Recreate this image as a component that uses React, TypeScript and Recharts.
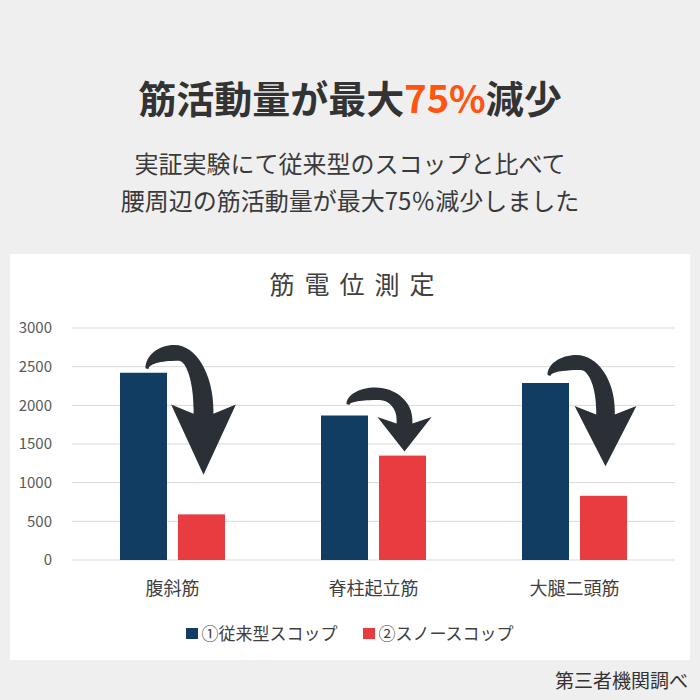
import React from "react";
import { BarChart, Bar, XAxis, YAxis, CartesianGrid } from "recharts";

const categories = ["腹斜筋", "脊柱起立筋", "大腿二頭筋"];
const conventional = [2420, 1870, 2290];
const snowScoop = [590, 1350, 830];
const yTicks = [0, 500, 1000, 1500, 2000, 2500, 3000];
const seriesNames = ["①従来型スコップ", "②スノースコップ"];

const NAVY = "#123d63";
const RED = "#e83c41";
const ARROW = "#2b3036";
const BAR_SIZE = 47;
const BAR_GAP = 11;
const FONT = '"Noto Sans CJK JP", "Noto Sans", sans-serif';

const data = categories.map((name, i) => ({
  name,
  conv: conventional[i],
  snow: snowScoop[i],
}));

// curved arrow from the conventional bar down onto the snow-scoop bar
function arrowPath(tx: number, cx: number, top: number, tip: number) {
  const H = tip - top;
  const w = 6 + 0.03 * H;
  const hw = 22 + 0.08 * H;
  const headH = 0.5 * H;
  const by = tip - headH;
  const ty = top + Math.max(0.18 * H, 1.6 * w + 4);
  const ax = tx + 0.5 * (cx - tx);
  const ay = top;
  const aix = ax + 4;
  const aiy = top + 1.6 * w;
  const k = 0.55;
  const r = (n: number) => n.toFixed(1);
  return [
    `M${r(tx)},${r(ty)}`,
    `C${r(tx)},${r(ty - k * (ty - ay))} ${r(ax - k * (ax - tx))},${r(ay)} ${r(ax)},${r(ay)}`,
    `C${r(ax + k * (cx + w - ax))},${r(ay)} ${r(cx + w)},${r(by - k * (by - ay))} ${r(cx + w)},${r(by)}`,
    `L${r(cx + w)},${r(by + 4)}`,
    `L${r(cx + hw)},${r(by - headH * 0.08)}`,
    `L${r(cx)},${r(tip)}`,
    `L${r(cx - hw)},${r(by - headH * 0.08)}`,
    `L${r(cx - w)},${r(by + 4)}`,
    `L${r(cx - w)},${r(by)}`,
    `C${r(cx - w)},${r(by - k * (by - aiy))} ${r(aix + k * (cx - w - aix))},${r(aiy)} ${r(aix)},${r(aiy)}`,
    `C${r(aix - k * (aix - tx))},${r(aiy)} ${r(tx + 3)},${r(ty - k * Math.max(ty - aiy, 0))} ${r(tx + 3)},${r(ty + 1)}`,
    "Z",
  ].join(" ");
}

function SnowBarShape(props: any) {
  const { x, y, width, height, payload } = props;
  const bottom = y + height;
  const ppu = height / payload.snow;
  const navyTop = bottom - payload.conv * ppu;
  const navyCenter = x - BAR_GAP - width / 2;
  const redCenter = x + width / 2;
  const top = navyTop - 28;
  const drop = y - navyTop;
  const tip = navyTop + 0.65 * drop + 10;
  return (
    <g>
      <rect x={x} y={y} width={width} height={height} fill={RED} />
      <path d={arrowPath(navyCenter + 2, redCenter + 2, top, tip)} fill={ARROW} />
    </g>
  );
}

export default function App() {
  return (
    <div
      style={{
        position: "absolute",
        left: 0,
        top: 0,
        width: 700,
        height: 700,
        background: "#efefef",
        fontFamily: FONT,
        overflow: "hidden",
      }}
    >
      <div
        style={{
          position: "absolute",
          top: 74,
          left: 0,
          width: 700,
          textAlign: "center",
          fontSize: 38,
          fontWeight: 700,
          color: "#333",
          lineHeight: "46px",
        }}
      >
        筋活動量が最大<span style={{ color: "#ff5511" }}>75%</span>減少
      </div>
      <div
        style={{
          position: "absolute",
          top: 144,
          left: 0,
          width: 700,
          textAlign: "center",
          fontSize: 24,
          color: "#3a3a3a",
          lineHeight: "37px",
        }}
      >
        <div>実証実験にて従来型のスコップと比べて</div>
        <div>腰周辺の筋活動量が最大75％減少しました</div>
      </div>

      <div
        style={{
          position: "absolute",
          left: 10,
          top: 254,
          width: 680,
          height: 406,
          background: "#ffffff",
        }}
      />
      <div
        style={{
          position: "absolute",
          top: 266,
          left: 10,
          width: 680,
          textAlign: "center",
          fontSize: 25,
          letterSpacing: 10,
          color: "#404040",
          lineHeight: "34px",
          paddingLeft: 14,
          boxSizing: "border-box",
        }}
      >
        筋電位測定
      </div>

      <div style={{ position: "absolute", left: 0, top: 310 }}>
        <BarChart
          width={700}
          height={300}
          data={data}
          margin={{ top: 18, right: 25, bottom: 0, left: 0 }}
          barSize={BAR_SIZE}
          barGap={BAR_GAP}
        >
          <CartesianGrid vertical={false} stroke="#d9d9d9" />
          <XAxis
            dataKey="name"
            axisLine={false}
            tickLine={false}
            height={50}
            tickMargin={16}
            tick={{ fontSize: 18, fill: "#404040", fontFamily: FONT }}
          />
          <YAxis
            domain={[0, 3000]}
            ticks={yTicks}
            interval={0}
            axisLine={false}
            tickLine={false}
            width={72}
            tickMargin={14}
            tick={{ fontSize: 15, fill: "#595959", fontFamily: FONT }}
          />
          <Bar dataKey="conv" name={seriesNames[0]} fill={NAVY} isAnimationActive={false} />
          <Bar
            dataKey="snow"
            name={seriesNames[1]}
            fill={RED}
            shape={<SnowBarShape />}
            isAnimationActive={false}
          />
        </BarChart>
      </div>

      <div
        style={{
          position: "absolute",
          top: 620,
          left: 0,
          width: 700,
          display: "flex",
          justifyContent: "center",
          alignItems: "center",
          fontSize: 17,
          color: "#404040",
          lineHeight: "26px",
        }}
      >
        {seriesNames.map((n, i) => (
          <div
            key={n}
            style={{ display: "flex", alignItems: "center", marginRight: i === 0 ? 26 : 0 }}
          >
            <span
              style={{
                display: "inline-block",
                width: 12,
                height: 11,
                background: i === 0 ? NAVY : RED,
                marginRight: 3,
              }}
            />
            <span>{n}</span>
          </div>
        ))}
      </div>

      <div
        style={{
          position: "absolute",
          top: 666,
          right: 12,
          fontSize: 19,
          color: "#333",
          lineHeight: "28px",
        }}
      >
        第三者機関調べ
      </div>
    </div>
  );
}
